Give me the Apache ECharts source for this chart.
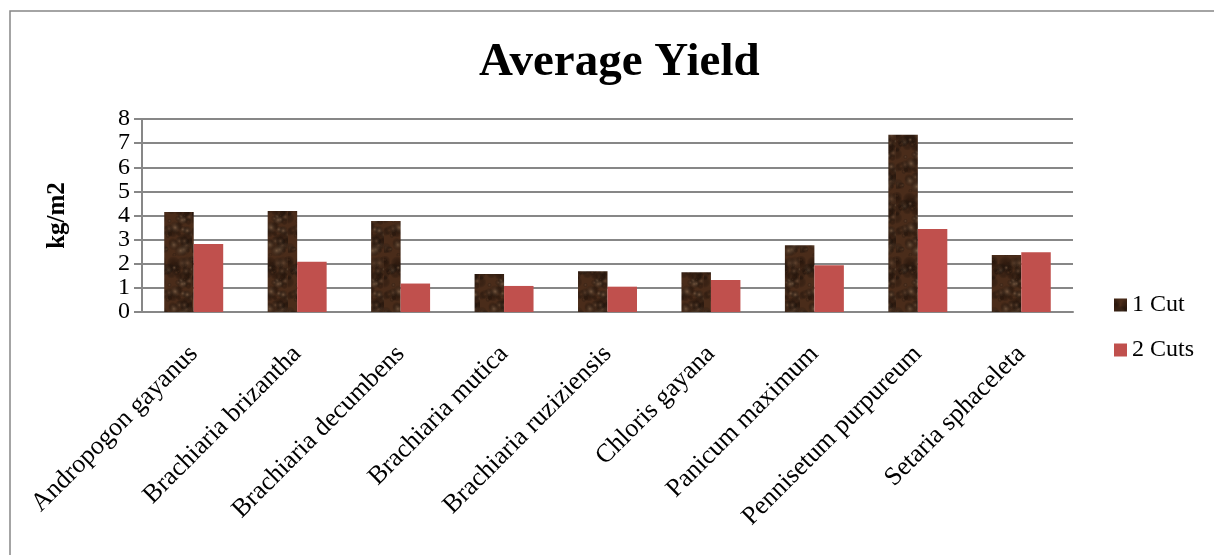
<!DOCTYPE html>
<html>
<head>
<meta charset="utf-8">
<script src="https://cdn.jsdelivr.net/npm/echarts@6/dist/echarts.min.js"></script>
<style>
  html, body { margin: 0; padding: 0; background: #ffffff; }
  #chart { width: 1214px; height: 555px; }
</style>
</head>
<body>
<div id="chart"></div>
<script>
// Grass species and average yield (kg/m2) for one and two cuts
const categories = [
  'Andropogon gayanus', 'Brachiaria brizantha', 'Brachiaria decumbens',
  'Brachiaria mutica', 'Brachiaria ruziziensis', 'Chloris gayana',
  'Panicum maximum', 'Pennisetum purpureum', 'Setaria sphaceleta'
];
const oneCut  = [4.15, 4.19, 3.77, 1.57, 1.69, 1.65, 2.77, 7.35, 2.36];
const twoCuts = [2.82, 2.08, 1.18, 1.08, 1.05, 1.33, 1.94, 3.44, 2.48];
const seriesNames = ['1 Cut', '2 Cuts'];

// Mottled brown fill for the "1 Cut" bars
function barkTexture() {
  const c = document.createElement('canvas');
  c.width = 32; c.height = 64;
  const g = c.getContext('2d');
  g.fillStyle = '#4a2c1a';
  g.fillRect(0, 0, c.width, c.height);
  let s = 7;
  const next = () => { s = (s * 1103515245 + 12345) % 2147483648; return s / 2147483648; };
  const tones = ['#2e180c', '#6e4f38', '#3a2214', '#86674c', '#553520'];
  for (let i = 0; i < 70; i++) {
    const x = next() * 32, y = next() * 64, r = 2 + next() * 5;
    const grd = g.createRadialGradient(x, y, 0, x, y, r);
    const col = tones[i % tones.length];
    grd.addColorStop(0, col);
    grd.addColorStop(1, 'rgba(0,0,0,0)');
    g.globalAlpha = 0.7;
    g.fillStyle = grd;
    g.beginPath(); g.arc(x, y, r, 0, Math.PI * 2); g.fill();
  }
  return c;
}

const chart = echarts.init(document.getElementById('chart'), null, { renderer: 'canvas' });
const serif = '"Liberation Serif", "Times New Roman", serif';
const gridGray = '#878787';

chart.setOption({
  backgroundColor: '#ffffff',
  animation: false,
  graphic: [{
    type: 'rect',
    shape: { x: 10, y: 11, width: 1400, height: 800 },
    style: { fill: 'none', stroke: gridGray, lineWidth: 1.5 },
    silent: true, z: -1
  }],
  title: {
    text: 'Average Yield',
    left: 474,
    top: 34,
    textStyle: { fontFamily: serif, fontWeight: 'bold', fontSize: 47, color: '#000' }
  },
  legend: {
    orient: 'vertical',
    left: 1114,
    top: 293,
    padding: 0,
    itemWidth: 13,
    itemHeight: 13,
    itemGap: 21,
    icon: 'rect',
    textStyle: { fontFamily: serif, fontSize: 24, color: '#000', lineHeight: 24 },
    data: seriesNames
  },
  grid: { left: 142, right: 141, top: 119, bottom: 243, containLabel: false },
  xAxis: {
    type: 'category',
    data: categories,
    axisLine: { lineStyle: { color: gridGray, width: 2 } },
    axisTick: { show: false },
    axisLabel: {
      rotate: 45,
      margin: 38,
      interval: 0,
      fontFamily: serif,
      fontSize: 26,
      color: '#000'
    }
  },
  yAxis: {
    type: 'value',
    min: 0,
    max: 8,
    interval: 1,
    name: 'kg/m2',
    nameLocation: 'middle',
    nameGap: 72,
    nameTextStyle: { fontFamily: serif, fontWeight: 'bold', fontSize: 25, color: '#000' },
    axisLine: { show: true, lineStyle: { color: gridGray, width: 2 } },
    axisTick: { show: true, length: 8, lineStyle: { color: gridGray, width: 2 } },
    axisLabel: {
      fontFamily: serif, fontSize: 24, lineHeight: 20, color: '#000', margin: 12,
      showMinLabel: true, showMaxLabel: true, hideOverlap: false
    },
    splitLine: { lineStyle: { color: gridGray, width: 2 } }
  },
  series: [
    {
      name: seriesNames[0],
      type: 'bar',
      data: oneCut,
      barGap: '0%',
      barCategoryGap: '43%',
      itemStyle: { color: { image: barkTexture(), repeat: 'repeat' } }
    },
    {
      name: seriesNames[1],
      type: 'bar',
      data: twoCuts,
      itemStyle: { color: '#C0504D' }
    }
  ]
});
</script>
</body>
</html>
